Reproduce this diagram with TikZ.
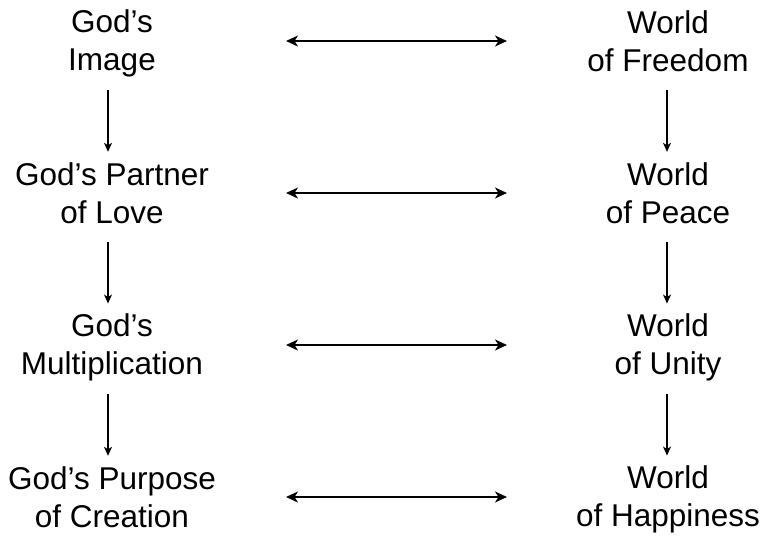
\documentclass[tikz,border=0pt]{standalone}
\usepackage{fontspec}
\setmainfont{Liberation Sans}
\usetikzlibrary{arrows.meta}
\newcommand{\mystrut}{\rule[-6pt]{0pt}{34pt}}
\begin{document}
\begin{tikzpicture}[x=1pt,y=-1pt,
  lbl/.style={align=center,inner sep=0pt,font=\fontsize{31.5}{38}\selectfont},
  harrow/.style={{Stealth[length=12pt,width=11pt,inset=3.5pt]}-{Stealth[length=12pt,width=11pt,inset=3.5pt]},line width=1.6pt,shorten <=174pt,shorten >=161pt},
  varrow/.style={-{Stealth[length=9pt,width=8pt,inset=2.5pt]},line width=1.2pt}]
\useasboundingbox (0,0) rectangle (763,539);
\node[lbl] (l1) at (112,41) {\mystrut God’s\\Image\mystrut};
\node[lbl] (l2) at (112,193) {\mystrut God’s Partner\\of Love\mystrut};
\node[lbl] (l3) at (112,345) {\mystrut God’s\\Multiplication\mystrut};
\node[lbl] (l4) at (112,497) {\mystrut God’s Purpose\\of Creation\mystrut};
\node[lbl] (r1) at (668,41) {\mystrut World\\of Freedom\mystrut};
\node[lbl] (r2) at (668,193) {\mystrut World\\of Peace\mystrut};
\node[lbl] (r3) at (668,345) {\mystrut World\\of Unity\mystrut};
\node[lbl] (r4) at (668,497) {\mystrut World\\of Happiness\mystrut};
\foreach \i in {1,2,3,4}{
  \draw[harrow] (l\i.center) -- (r\i.center);
}
\foreach \a/\b in {1/2,2/3,3/4}{
  \draw[varrow,shorten <=13pt,shorten >=5pt] ([xshift=-4pt]l\a.south) -- ([xshift=-4pt]l\b.north);
  \draw[varrow,shorten <=13pt,shorten >=5pt] ([xshift=-1pt]r\a.south) -- ([xshift=-1pt]r\b.north);
}
\end{tikzpicture}
\end{document}
